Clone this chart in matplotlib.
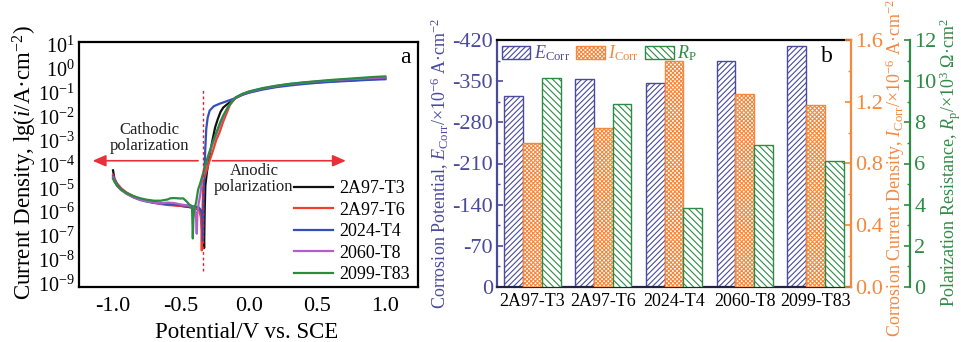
import numpy as np
import matplotlib
matplotlib.use("Agg")
import matplotlib.pyplot as plt
from matplotlib.ticker import MultipleLocator, FixedLocator

plt.rcParams['font.family'] = ['Liberation Serif', 'DejaVu Serif']
plt.rcParams['mathtext.fontset'] = 'custom'
plt.rcParams['mathtext.rm'] = 'Liberation Serif'
plt.rcParams['mathtext.it'] = 'Liberation Serif:italic'
plt.rcParams['mathtext.bf'] = 'Liberation Serif:bold'
plt.rcParams['axes.unicode_minus'] = False
plt.rcParams['hatch.linewidth'] = 0.8

# ---------------- Panel a data: potential (V vs SCE) and log10 current density ----------------
E_2A97_T3 = [-1.00, -0.99, -0.97, -0.94, -0.90, -0.85, -0.80, -0.75, -0.70, -0.65, -0.60, -0.55, -0.50, -0.45,
             -0.40, -0.36, -0.345, -0.336, -0.331, -0.327, -0.322, -0.31, -0.29, -0.27, -0.25, -0.23, -0.21,
             -0.19, -0.16, -0.13, -0.10, -0.05, 0.0, 0.1, 0.2, 0.3, 0.4, 0.5, 0.6, 0.7, 0.8, 0.9, 1.0]
lgI_2A97_T3 = [-4.25, -4.60, -4.85, -5.05, -5.22, -5.36, -5.46, -5.53, -5.58, -5.62, -5.66, -5.70, -5.74, -5.78,
               -5.83, -5.90, -6.10, -6.60, -7.50, -6.00, -4.90, -4.30, -3.60, -3.00, -2.45, -2.10, -1.80,
               -1.62, -1.48, -1.36, -1.22, -1.08, -0.98, -0.84, -0.74, -0.67, -0.61, -0.57, -0.53, -0.50,
               -0.47, -0.44, -0.41]

E_2A97_T6 = [-1.00, -0.99, -0.97, -0.94, -0.90, -0.85, -0.80, -0.75, -0.70, -0.65, -0.60, -0.55, -0.50, -0.45,
             -0.40, -0.37, -0.355, -0.35, -0.348, -0.344, -0.338, -0.33, -0.30, -0.27, -0.24, -0.22, -0.19,
             -0.165, -0.14, -0.12, -0.10, -0.05, 0.0, 0.1, 0.2, 0.3, 0.4, 0.5, 0.6, 0.7, 0.8, 0.9, 1.0]
lgI_2A97_T6 = [-4.45, -4.60, -4.80, -5.00, -5.18, -5.33, -5.45, -5.54, -5.61, -5.66, -5.70, -5.72, -5.74, -5.76,
               -5.80, -5.85, -6.20, -6.80, -7.60, -6.20, -5.00, -4.60, -4.00, -3.50, -2.95, -2.70, -2.20,
               -1.85, -1.50, -1.35, -1.23, -1.09, -0.99, -0.85, -0.74, -0.66, -0.60, -0.55, -0.51, -0.47,
               -0.44, -0.41, -0.38]

E_2024_T4 = [-1.00, -0.99, -0.97, -0.94, -0.90, -0.85, -0.80, -0.75, -0.70, -0.65, -0.60, -0.55, -0.50, -0.45,
             -0.40, -0.37, -0.35, -0.343, -0.340, -0.336, -0.330, -0.322, -0.315, -0.305, -0.29, -0.26, -0.22,
             -0.17, -0.12, -0.10, -0.05, 0.0, 0.1, 0.2, 0.3, 0.4, 0.5, 0.6, 0.7, 0.8, 0.9, 1.0]
lgI_2024_T4 = [-4.50, -4.65, -4.85, -5.05, -5.22, -5.38, -5.49, -5.56, -5.61, -5.64, -5.67, -5.69, -5.71, -5.73,
               -5.76, -5.80, -5.95, -6.40, -7.20, -5.50, -4.40, -3.30, -2.50, -2.05, -1.75, -1.57, -1.47,
               -1.37, -1.27, -1.22, -1.09, -1.00, -0.87, -0.77, -0.70, -0.64, -0.59, -0.55, -0.52, -0.49,
               -0.46, -0.44]

E_2060_T8 = [-1.00, -0.99, -0.97, -0.94, -0.90, -0.85, -0.80, -0.75, -0.70, -0.65, -0.60, -0.55, -0.50, -0.45,
             -0.42, -0.40, -0.39, -0.385, -0.38, -0.37, -0.36, -0.35, -0.33, -0.31, -0.29, -0.265, -0.24,
             -0.215, -0.19, -0.165, -0.14, -0.12, -0.10, -0.05, 0.0, 0.1, 0.2, 0.3, 0.4, 0.5, 0.6, 0.7, 0.8,
             0.9, 1.0]
lgI_2060_T8 = [-4.55, -4.70, -4.90, -5.08, -5.24, -5.38, -5.48, -5.55, -5.60, -5.63, -5.60, -5.62, -5.68, -5.72,
               -5.75, -5.85, -6.30, -6.90, -6.00, -5.60, -5.30, -4.85, -4.30, -3.85, -3.50, -3.10, -2.73,
               -2.35, -2.00, -1.70, -1.48, -1.33, -1.21, -1.06, -0.96, -0.82, -0.72, -0.64, -0.58, -0.53,
               -0.49, -0.45, -0.42, -0.39, -0.36]

E_2099_T83 = [-1.00, -0.99, -0.97, -0.94, -0.90, -0.85, -0.80, -0.75, -0.70, -0.65, -0.60, -0.58, -0.55, -0.50,
              -0.485, -0.46, -0.44, -0.42, -0.414, -0.41, -0.405, -0.39, -0.375, -0.36, -0.345, -0.33, -0.31,
              -0.29, -0.27, -0.25, -0.23, -0.21, -0.19, -0.17, -0.15, -0.12, -0.10, -0.05, 0.0, 0.1, 0.2, 0.3,
              0.4, 0.5, 0.6, 0.7, 0.8, 0.9, 1.0]
lgI_2099_T83 = [-4.60, -4.72, -4.90, -5.06, -5.20, -5.33, -5.42, -5.48, -5.52, -5.52, -5.47, -5.42, -5.41, -5.43,
                -5.42, -5.55, -5.68, -5.75, -7.10, -6.30, -5.90, -5.60, -5.05, -4.80, -4.50, -4.20, -3.80,
                -3.45, -3.10, -2.80, -2.50, -2.20, -1.95, -1.75, -1.55, -1.35, -1.20, -1.05, -0.95, -0.81,
                -0.71, -0.63, -0.57, -0.52, -0.47, -0.43, -0.39, -0.35, -0.32]

alloys = ['2A97-T3', '2A97-T6', '2024-T4', '2060-T8', '2099-T83']
line_colors = ['#111111', '#f0402a', '#3450b8', '#b060c8', '#2a8c3e']

# ---------------- Panel b data ----------------
categories = ['2A97-T3', '2A97-T6', '2024-T4', '2060-T8', '2099-T83']
E_corr = [-325, -353, -347, -385, -410]
I_corr = [0.935, 1.03, 1.465, 1.25, 1.18]
R_p = [10.13, 8.87, 3.84, 6.91, 6.13]

cE = '#4a4a9c'
cI = '#f5883c'
cR = '#2e8b45'

W, H = 961, 342
fig = plt.figure(figsize=(W / 100, H / 100), dpi=100)


def fx(px):
    return px / W


def fy(py):
    return 1 - py / H


# ================= Panel a =================
axA = fig.add_axes([fx(79), fy(287), (418 - 79) / W, (287 - 41.7) / H])
series = [(E_2A97_T3, lgI_2A97_T3), (E_2A97_T6, lgI_2A97_T6), (E_2024_T4, lgI_2024_T4),
          (E_2060_T8, lgI_2060_T8), (E_2099_T83, lgI_2099_T83)]
for (e, lg), name, c in zip(series, alloys, line_colors):
    axA.plot(e, 10 ** np.array(lg), color=c, lw=1.6, label=name)
axA.set_yscale('log')
axA.set_ylim(10 ** -9.13, 10 ** 1.13)
axA.set_xlim(-1.25, 1.24)
axA.yaxis.set_major_locator(FixedLocator([10.0 ** k for k in range(-9, 2)]))
axA.yaxis.set_minor_locator(FixedLocator([]))
axA.set_xticks([-1.0, -0.5, 0.0, 0.5, 1.0])
axA.set_xticklabels(['-1.0', '-0.5', '0.0', '0.5', '1.0'])
axA.tick_params(axis='x', which='both', length=0, labelsize=16, pad=7)
axA.tick_params(axis='y', which='both', length=0, labelsize=14.5, pad=3)
for s in axA.spines.values():
    s.set_linewidth(1.6)

# dashed Ecorr line and arrows
axA.plot([-0.34, -0.34], [10 ** -8.45, 10 ** -0.9], color='#e8202a', lw=1.0, ls=(0, (2, 2)))
yarr = 10 ** -3.85
axA.annotate('', xy=(-1.15, yarr), xytext=(-0.375, yarr),
             arrowprops=dict(arrowstyle='-|>,head_length=0.8,head_width=0.35', color='#e8303a', lw=1.2,
                             shrinkA=0, shrinkB=0))
axA.annotate('', xy=(0.71, yarr), xytext=(-0.27, yarr),
             arrowprops=dict(arrowstyle='-|>,head_length=0.8,head_width=0.35', color='#e8303a', lw=1.2,
                             shrinkA=0, shrinkB=0))
axA.text(-0.73, 10 ** -2.9, 'Cathodic\npolarization', ha='center', va='center', fontsize=12,
         linespacing=1.0, color='#222222')
axA.text(0.035, 10 ** -4.63, 'Anodic\npolarization', ha='center', va='center', fontsize=12,
         linespacing=1.0, color='#222222')
axA.text(0.962, 0.935, 'a', transform=axA.transAxes, ha='center', va='center', fontsize=17)

axA.legend(loc='lower right', bbox_to_anchor=(0.975, 0.015), frameon=False, fontsize=13,
           handlelength=2.2, handletextpad=0.3, labelspacing=0.25, borderpad=0, borderaxespad=0)

fig.text(fx(25), fy(163), r'Current Density, lg($i$/A·cm$^{-2}$)', rotation=90, ha='center', va='center',
         fontsize=16.5)
fig.text(fx(247), fy(333), 'Potential/V vs. SCE', ha='center', va='center', fontsize=16.5)

# ================= Panel b =================
axB = fig.add_axes([fx(497), fy(287), (851 - 497) / W, (287 - 40) / H])
ax2 = axB.twinx()
ax3 = axB.twinx()
x = np.arange(len(categories))
w = 0.265
bE = axB.bar(x - w, E_corr, w, facecolor='white', edgecolor=cE, hatch='//////', lw=1.0, label=r'$E_{\rm Corr}$')
bI = ax2.bar(x, I_corr, w, facecolor='white', edgecolor=cI, hatch='xxxxxxxx', lw=1.0, label=r'$I_{\rm Corr}$')
bR = ax3.bar(x + w, R_p, w, facecolor='white', edgecolor=cR, hatch='\\\\\\\\\\', lw=1.0, label=r'$R_{\rm P}$')

axB.set_xlim(-0.5, 4.5)
axB.set_ylim(0, -420)
axB.set_yticks([0, -70, -140, -210, -280, -350, -420])
axB.set_yticklabels(['0', '-70', '-140', '-210', '-280', '-350', '-420'])
axB.yaxis.set_minor_locator(MultipleLocator(35))
axB.set_xticks(x)
axB.set_xticklabels(categories)
axB.tick_params(axis='x', length=0, labelsize=13, pad=4)
axB.tick_params(axis='y', which='major', direction='in', length=4.5, width=1.2, colors=cE, labelsize=16, pad=3)
axB.tick_params(axis='y', which='minor', direction='in', length=2.5, width=1.0, colors=cE)

ax2.set_ylim(0, 1.6)
ax2.yaxis.set_major_locator(MultipleLocator(0.4))
ax2.yaxis.set_minor_locator(MultipleLocator(0.2))
ax2.yaxis.set_major_formatter(plt.FormatStrFormatter('%.1f'))
ax2.tick_params(axis='y', which='major', direction='in', length=4.5, width=1.2, colors=cI, labelsize=16, pad=3)
ax2.tick_params(axis='y', which='minor', direction='in', length=2.5, width=1.0, colors=cI)

ax3.set_ylim(0, 12)
ax3.yaxis.set_major_locator(MultipleLocator(2))
ax3.yaxis.set_minor_locator(MultipleLocator(1))
ax3.spines['right'].set_position(('outward', 42.5))
ax3.tick_params(axis='y', which='major', direction='in', length=4.5, width=1.2, colors=cR, labelsize=16, pad=3)
ax3.tick_params(axis='y', which='minor', direction='in', length=2.5, width=1.0, colors=cR)

for a in (axB, ax2, ax3):
    for s in a.spines.values():
        s.set_linewidth(1.6)
axB.spines['left'].set_color(cE)
axB.spines['right'].set_visible(False)
axB.spines['top'].set_color('black')
axB.spines['bottom'].set_color('#222244')
for sp in ('left', 'top', 'bottom'):
    ax2.spines[sp].set_visible(False)
    ax3.spines[sp].set_visible(False)
ax2.spines['right'].set_color(cI)
ax3.spines['right'].set_color(cR)

ax3.legend(handles=[bE, bI, bR], loc='upper left', bbox_to_anchor=(0.013, 0.985), ncol=3, frameon=False,
           fontsize=13, handlelength=1.6, handleheight=0.8, handletextpad=0.2, columnspacing=0.3,
           borderpad=0, borderaxespad=0, labelcolor=[cE, cI, cR])
ax3.text(0.932, 0.935, 'b', transform=axB.transAxes, ha='center', va='center', fontsize=17)

fig.text(fx(440), fy(163), r'Corrosion Potential, $E_{\rm Corr}$/×10$^{-6}$ A·cm$^{-2}$', rotation=90,
         ha='center', va='center', fontsize=13, color=cE)
fig.text(fx(895), fy(168), r'Corrosion Current Density, $I_{\rm Corr}$/×10$^{-6}$ A·cm$^{-2}$', rotation=90,
         ha='center', va='center', fontsize=13, color=cI)
fig.text(fx(950), fy(163), r'Polarization Resistance, $R_{\rm p}$/×10$^{3}$ Ω·cm$^{2}$', rotation=90,
         ha='center', va='center', fontsize=13, color=cR)

fig.savefig('out.png', dpi=100)
